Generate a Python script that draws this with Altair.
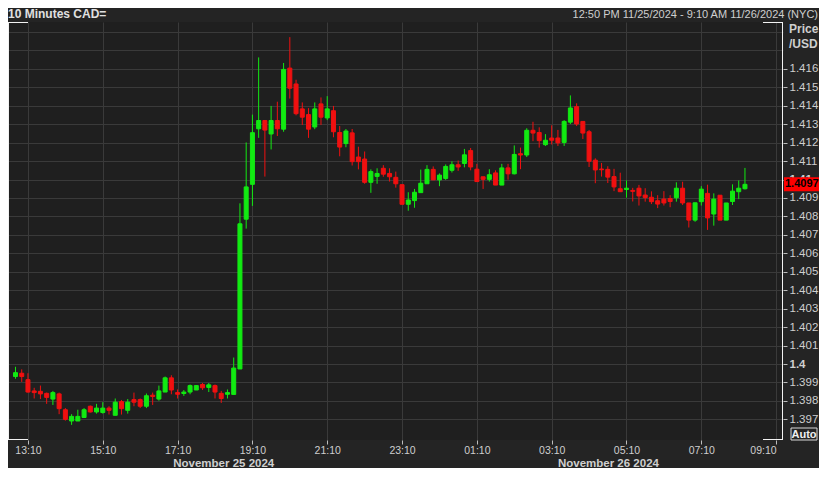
import altair as alt
import pandas as pd

# ---- data (10-minute USD/CAD candles, 12:50 -> 08:20) ----
start_time = "2024-11-25 12:50"
opens = [1.39932, 1.39950, 1.39915, 1.39854, 1.39852, 1.39841, 1.39810, 1.39838, 1.39752, 1.39691,
         1.39691, 1.39710, 1.39771, 1.39740, 1.39737, 1.39761, 1.39722, 1.39796, 1.39749, 1.39807,
         1.39807, 1.39771, 1.39831, 1.39810, 1.39848, 1.39925, 1.39845, 1.39840, 1.39848, 1.39859,
         1.39889, 1.39873, 1.39883, 1.39841, 1.39836, 1.39835, 1.39973, 1.40785, 1.40974, 1.41275,
         1.41320, 1.41247, 1.41320, 1.41273, 1.41604, 1.41518, 1.41383, 1.41352, 1.41285, 1.41410,
         1.41334, 1.41373, 1.41255, 1.41195, 1.41253, 1.41122, 1.41111, 1.40985, 1.41017, 1.41061,
         1.41033, 1.41012, 1.40972, 1.40866, 1.40886, 1.40929, 1.40977, 1.41055, 1.40998, 1.41006,
         1.41050, 1.41080, 1.41087, 1.41157, 1.41056, 1.41015, 1.41001, 1.41036, 1.40970, 1.41063,
         1.41031, 1.41140, 1.41133, 1.41267, 1.41255, 1.41189, 1.41225, 1.41225, 1.41201, 1.41311,
         1.41395, 1.41315, 1.41259, 1.41105, 1.41057, 1.41055, 1.41016, 1.40950, 1.40946, 1.40941,
         1.40953, 1.40916, 1.40904, 1.40885, 1.40894, 1.40897, 1.40901, 1.40953, 1.40873, 1.40780,
         1.40880, 1.40925, 1.40813, 1.40915, 1.40780, 1.40881, 1.40934, 1.40950]
highs = [1.39985, 1.39971, 1.39950, 1.39871, 1.39883, 1.39845, 1.39854, 1.39845, 1.39761, 1.39728,
         1.39752, 1.39761, 1.39775, 1.39784, 1.39793, 1.39771, 1.39813, 1.39805, 1.39810, 1.39845,
         1.39813, 1.39840, 1.39845, 1.39883, 1.39932, 1.39939, 1.39862, 1.39859, 1.39889, 1.39886,
         1.39897, 1.39897, 1.39889, 1.39854, 1.39862, 1.40035, 1.40871, 1.41201, 1.41352, 1.41662,
         1.41320, 1.41399, 1.41422, 1.41632, 1.41772, 1.41541, 1.41418, 1.41387, 1.41418, 1.41445,
         1.41452, 1.41399, 1.41290, 1.41274, 1.41274, 1.41178, 1.41152, 1.41055, 1.41061, 1.41078,
         1.41061, 1.41043, 1.40973, 1.40931, 1.40949, 1.41054, 1.41078, 1.41071, 1.41033, 1.41082,
         1.41099, 1.41103, 1.41166, 1.41171, 1.41085, 1.41015, 1.41056, 1.41050, 1.41085, 1.41085,
         1.41185, 1.41173, 1.41278, 1.41313, 1.41283, 1.41246, 1.41294, 1.41269, 1.41322, 1.41456,
         1.41413, 1.41315, 1.41269, 1.41115, 1.41090, 1.41072, 1.41058, 1.41037, 1.40995, 1.40955,
         1.40971, 1.40953, 1.40936, 1.40915, 1.40937, 1.40915, 1.40985, 1.40988, 1.40873, 1.40874,
         1.40964, 1.40972, 1.40925, 1.40915, 1.40873, 1.40974, 1.40995, 1.41063]
lows = [1.39920, 1.39903, 1.39845, 1.39813, 1.39810, 1.39784, 1.39778, 1.39728, 1.39693, 1.39670,
        1.39691, 1.39708, 1.39737, 1.39731, 1.39731, 1.39726, 1.39722, 1.39726, 1.39731, 1.39771,
        1.39761, 1.39761, 1.39778, 1.39801, 1.39848, 1.39836, 1.39813, 1.39827, 1.39836, 1.39859,
        1.39859, 1.39848, 1.39813, 1.39789, 1.39813, 1.39835, 1.39973, 1.40734, 1.40857, 1.41226,
        1.41016, 1.41163, 1.41236, 1.41259, 1.41439, 1.41348, 1.41296, 1.41226, 1.41273, 1.41296,
        1.41322, 1.41229, 1.41126, 1.41175, 1.41076, 1.41055, 1.40977, 1.40928, 1.40977, 1.41015,
        1.40989, 1.40956, 1.40864, 1.40831, 1.40847, 1.40929, 1.40977, 1.40998, 1.40964, 1.40998,
        1.41038, 1.41047, 1.41066, 1.41050, 1.40989, 1.40949, 1.40989, 1.40970, 1.40970, 1.40999,
        1.41028, 1.41056, 1.41122, 1.41208, 1.41173, 1.41182, 1.41190, 1.41182, 1.41182, 1.41301,
        1.41290, 1.41220, 1.41068, 1.40980, 1.41016, 1.40981, 1.40937, 1.40934, 1.40902, 1.40881,
        1.40859, 1.40880, 1.40867, 1.40845, 1.40859, 1.40850, 1.40880, 1.40862, 1.40740, 1.40771,
        1.40859, 1.40727, 1.40750, 1.40780, 1.40780, 1.40862, 1.40894, 1.40946]
closes = [1.39953, 1.39932, 1.39848, 1.39845, 1.39838, 1.39819, 1.39845, 1.39758, 1.39700, 1.39716,
          1.39716, 1.39752, 1.39740, 1.39761, 1.39761, 1.39749, 1.39793, 1.39758, 1.39793, 1.39793,
          1.39771, 1.39828, 1.39824, 1.39854, 1.39925, 1.39859, 1.39836, 1.39848, 1.39883, 1.39883,
          1.39871, 1.39887, 1.39848, 1.39813, 1.39845, 1.39978, 1.40760, 1.40960, 1.41254, 1.41320,
          1.41268, 1.41320, 1.41275, 1.41597, 1.41495, 1.41357, 1.41338, 1.41273, 1.41383, 1.41338,
          1.41383, 1.41259, 1.41176, 1.41263, 1.41097, 1.41097, 1.40985, 1.41043, 1.41033, 1.41029,
          1.41015, 1.40977, 1.40866, 1.40889, 1.40931, 1.40980, 1.41055, 1.40998, 1.41024, 1.41071,
          1.41080, 1.41068, 1.41134, 1.41068, 1.40989, 1.41001, 1.41026, 1.40970, 1.41063, 1.41031,
          1.41136, 1.41133, 1.41267, 1.41252, 1.41211, 1.41213, 1.41213, 1.41199, 1.41315, 1.41388,
          1.41301, 1.41252, 1.41099, 1.41052, 1.41053, 1.41013, 1.40960, 1.40934, 1.40953, 1.40936,
          1.40911, 1.40902, 1.40880, 1.40867, 1.40873, 1.40881, 1.40953, 1.40873, 1.40780, 1.40874,
          1.40948, 1.40792, 1.40894, 1.40780, 1.40873, 1.40937, 1.40953, 1.40974]

x_tick_times = ["2024-11-25 13:10", "2024-11-25 15:10", "2024-11-25 17:10", "2024-11-25 19:10",
                "2024-11-25 21:10", "2024-11-25 23:10", "2024-11-26 01:10", "2024-11-26 03:10",
                "2024-11-26 05:10", "2024-11-26 07:10", "2024-11-26 09:10"]
x_domain_times = ["2024-11-25 12:46", "2024-11-26 09:13"]
y_ticks = [1.397, 1.398, 1.399, 1.400, 1.401, 1.402, 1.403, 1.404, 1.405, 1.406, 1.407,
           1.408, 1.409, 1.410, 1.411, 1.412, 1.413, 1.414, 1.415, 1.416, 1.417, 1.418]
y_domain = [1.39588, 1.41854]
day_label_times = ["2024-11-25 18:24", "2024-11-26 04:41"]
day_labels = ["November 25 2024", "November 26 2024"]
header_left = "10 Minutes CAD="
header_right = "12:50 PM 11/25/2024 - 9:10 AM 11/26/2024 (NYC)"
last_price_label = "1.4097"

# ---- styling ----
W, H = 775, 418
BG = "#242424"
PLOT_BG = "#1f1f1f"
GRID = "#3a3a3a"
TXT = "#cfcfcf"
GREEN = "#12ea12"
RED = "#f01010"
FONT = "Liberation Sans"


def dt(s):
    ts = pd.Timestamp(s)
    return alt.DateTime(year=ts.year, month=ts.month, date=ts.day, hours=ts.hour, minutes=ts.minute)


t0 = pd.Timestamp(start_time)
df = pd.DataFrame({
    "t": [t0 + pd.Timedelta(minutes=10 * i) for i in range(len(opens))],
    "open": opens, "high": highs, "low": lows, "close": closes,
})
df["dir"] = ["up" if c >= o else "down" for o, c in zip(df["open"], df["close"])]

color_scale = alt.Scale(domain=["up", "down"], range=[GREEN, RED])
x_scale = alt.Scale(domain=[dt(s) for s in x_domain_times])
y_scale = alt.Scale(domain=y_domain, nice=False, zero=False)

x_axis = alt.Axis(
    values=[dt(s) for s in x_tick_times], format="%H:%M", title=None,
    grid=True, gridColor=GRID, gridWidth=1, domain=False,
    ticks=True, tickColor="#bdbdbd", tickSize=4,
    labelColor=TXT, labelFont=FONT, labelFontSize=10.5, labelPadding=1,
    labelFlush=8, labelOverlap=False,
)
y_axis = alt.Axis(
    orient="right", values=y_ticks, title=None,
    grid=True, gridColor=GRID, gridWidth=1, domain=False,
    tickColor="#bdbdbd", tickSize=4,
    tickOpacity={"condition": {"test": "datum.value > 1.4165", "value": 0}, "value": 1},
    labelExpr="datum.value > 1.4165 ? '' : format(datum.value, '.3~f')",
    labelColor=TXT, labelFont=FONT, labelFontSize=11.5, labelPadding=2,
    labelFontWeight={"condition": {"test": "abs(datum.value - 1.4) < 0.0001 || abs(datum.value - 1.41) < 0.0001",
                                   "value": "bold"}, "value": "normal"},
    labelOverlap=False, labelBound=False,
)

base = alt.Chart(df)

wicks = base.mark_rule(strokeWidth=1).encode(
    x=alt.X("t:T", scale=x_scale, axis=x_axis),
    y=alt.Y("low:Q", scale=y_scale, axis=y_axis),
    y2="high:Q",
    color=alt.Color("dir:N", scale=color_scale, legend=None),
)

bodies = base.mark_bar(size=4, strokeWidth=1).encode(
    x=alt.X("t:T", scale=x_scale, axis=x_axis),
    y=alt.Y("open:Q", scale=y_scale, axis=y_axis),
    y2="close:Q",
    color=alt.Color("dir:N", scale=color_scale, legend=None),
    stroke=alt.Stroke("dir:N", scale=color_scale, legend=None),
)

one = alt.Data(values=[{"a": 1}])


def rule(x, x2, y, y2):
    return alt.Chart(one).mark_rule(color="#f2f2f2", strokeWidth=1).encode(
        x=alt.value(x), x2=alt.value(x2), y=alt.value(y), y2=alt.value(y2))


frame = [
    rule(0.5, 0.5, 0, H),
    rule(W - 0.5, W - 0.5, 0, H),
    rule(0, 20, 0.5, 0.5),
    rule(W - 20, W, 0.5, 0.5),
    rule(0, 20, H - 0.5, H - 0.5),
    rule(W - 20, W, H - 0.5, H - 0.5),
]


def label(text, x, y, size, weight="normal", align="left", color=TXT, baseline="alphabetic"):
    return alt.Chart(one).mark_text(
        text=text, font=FONT, fontSize=size, fontWeight=weight, align=align,
        baseline=baseline, color=color,
    ).encode(x=alt.value(x), y=alt.value(y))


texts = [
    label(header_left, 0, -4, 12, "bold", color="#e0e0e0"),
    label(header_right, W + 35, -4, 11, align="right"),
    label("Price", W + 6, 11, 12, "bold"),
    label("/USD", W + 6, 26, 12, "bold"),
]

auto_box = alt.Chart(one).mark_rect(fill=BG, stroke="#d8d8d8", strokeWidth=1).encode(
    x=alt.value(W + 8), x2=alt.value(W + 34), y=alt.value(H - 12), y2=alt.value(H))
auto_text = label("Auto", W + 21, H - 5.5, 11, "bold", align="center", color="#f0f0f0", baseline="middle")

last = pd.DataFrame({"price": [closes[-1]]})
last["hi"] = last["price"] + 0.00038
last["lo"] = last["price"] - 0.00038
badge = alt.Chart(last).mark_rect(color="#ff0000").encode(
    x=alt.value(W + 1), x2=alt.value(W + 40),
    y=alt.Y("hi:Q", scale=y_scale, axis=y_axis), y2="lo:Q",
)
badge_text = alt.Chart(last).mark_text(
    text=last_price_label, font=FONT, fontSize=11, fontWeight="bold", align="left",
    baseline="middle", color="#000000",
).encode(x=alt.value(W + 2), y=alt.Y("price:Q", scale=y_scale, axis=y_axis))

days = pd.DataFrame({"t": [pd.Timestamp(s) for s in day_label_times], "label": day_labels})
day_text = alt.Chart(days).mark_text(
    font=FONT, fontSize=11.5, fontWeight="bold", align="center", baseline="alphabetic", color=TXT,
).encode(x=alt.X("t:T", scale=x_scale, axis=x_axis), y=alt.value(H + 27), text="label:N")

chart = alt.layer(
    wicks, bodies, *frame, *texts, auto_box, auto_text, badge, badge_text, day_text
).properties(
    width=W, height=H,
    padding={"left": 0, "top": 14, "right": 36, "bottom": 28},
    autosize=alt.AutoSizeParams(type="none"),
).configure(
    background=BG,
).configure_axis(
    labelOverlap=False,
).configure_view(
    fill=PLOT_BG, stroke=None,
)

chart.save("out.html", embed_options={"renderer": "svg", "actions": False})
